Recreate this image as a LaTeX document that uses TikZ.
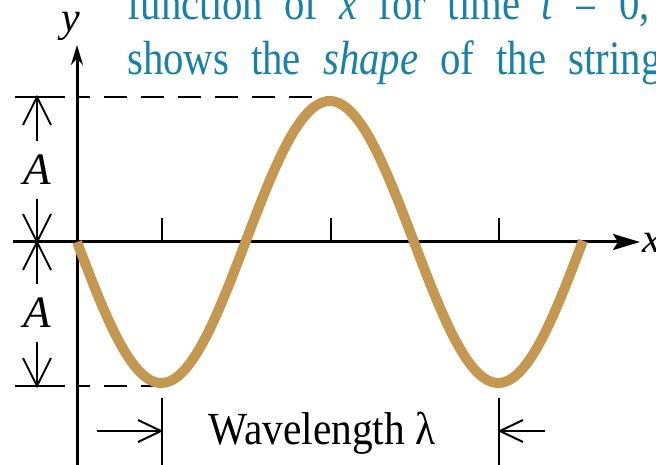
\documentclass[tikz,border=0pt]{standalone}
\usepackage{fontspec}
\setmainfont{Liberation Serif}
\usetikzlibrary{arrows.meta}
\definecolor{wavecol}{RGB}{196,152,80}
\definecolor{capblue}{RGB}{26,128,168}
\begin{document}
\begin{tikzpicture}[x=1pt,y=-1pt,
  axis/.style={line width=3pt},
  dim/.style={line width=2pt},
  barbline/.style={line width=2pt, miter limit=20},
  guide/.style={line width=2.6pt, dash pattern=on 23pt off 14pt, dash phase=10pt},
  lbl/.style={inner sep=0pt, font=\fontsize{42}{48}\selectfont},
  captxt/.style={inner sep=0pt, xscale=0.85, text=capblue, font=\fontsize{48}{54}\selectfont, anchor=base west}]
\useasboundingbox (0,0) rectangle (656,465);
\fill[white] (0,0) rectangle (656,465);
% caption
\node[captxt] (cap1) at (127,20) {\spaceskip=25pt function of \textit{x} for time \textit{t} = 0,};
\node[captxt] (cap2) at (127,75) {\spaceskip=26pt shows the \textit{shape} of the string};
% guides
\draw[guide] (77,97) -- (331,97);
\draw[guide] (77,386) -- (160,386);
% axes
\draw[axis, -{Stealth[length=20pt,width=12pt]}] (77,465) -- (77,45) coordinate (ytip);
\draw[axis, -{Stealth[length=27pt,width=16pt,inset=5pt]}] (13,242) -- (640,242) coordinate (xtip);
\node[lbl, anchor=base, font=\fontsize{42}{46}\selectfont\itshape] (ylab) at (71,32) {y};
\node[lbl, anchor=base west, font=\fontsize{42}{46}\selectfont\itshape] (xlab) at (642,252) {x};
\foreach \t in {162,331,499} \draw[line width=2.5pt] (\t,242) -- (\t,218);
% wave
\draw[line width=10pt, wavecol] plot[domain=77:583, samples=150] (\x, {242+141*sin(1.068249*(\x-77))});
% amplitude dimensions
\draw[dim] (15,97) -- (65,97);
\draw[dim] (15,386) -- (65,386);
\coordinate (atop) at (37,97);
\coordinate (amid) at (37,242);
\coordinate (abot) at (37,386);
\node[lbl, font=\fontsize{45}{48}\selectfont\itshape, minimum height=58pt] (A1) at (37,170) {A};
\node[lbl, font=\fontsize{45}{48}\selectfont\itshape, minimum height=58pt] (A2) at (37,313) {A};
\draw[dim] (A1.north) -- (atop);
\draw[dim] (A1.south) -- (amid);
\draw[dim] (A2.north) -- (amid);
\draw[dim] (A2.south) -- (abot);
\draw[barbline] ([shift={(-14,28)}]atop) -- (atop) -- ([shift={(14,28)}]atop);
\draw[barbline] ([shift={(-14,-28)}]amid) -- (amid) -- ([shift={(14,-28)}]amid);
\draw[barbline] ([shift={(-14,28)}]amid) -- (amid) -- ([shift={(14,28)}]amid);
\draw[barbline] ([shift={(-14,-28)}]abot) -- (abot) -- ([shift={(14,-28)}]abot);
% wavelength
\draw[dim] (162,398) -- (162,465);
\draw[dim] (499,398) -- (499,465);
\node[lbl, anchor=base, xscale=0.9, font=\fontsize{46}{50}\selectfont] (wl) at (322,444) {Wavelength λ};
\coordinate (wlL) at (97,431);
\coordinate (wlR) at (545,431);
\coordinate (wtL) at (161,431);
\coordinate (wtR) at (500,431);
\draw[dim] (wlL) -- (wtL);
\draw[dim] (wlR) -- (wtR);
\draw[barbline] ([shift={(-23,-11)}]wtL) -- (wtL) -- ([shift={(-23,11)}]wtL);
\draw[barbline] ([shift={(23,-11)}]wtR) -- (wtR) -- ([shift={(23,11)}]wtR);
\end{tikzpicture}
\end{document}
